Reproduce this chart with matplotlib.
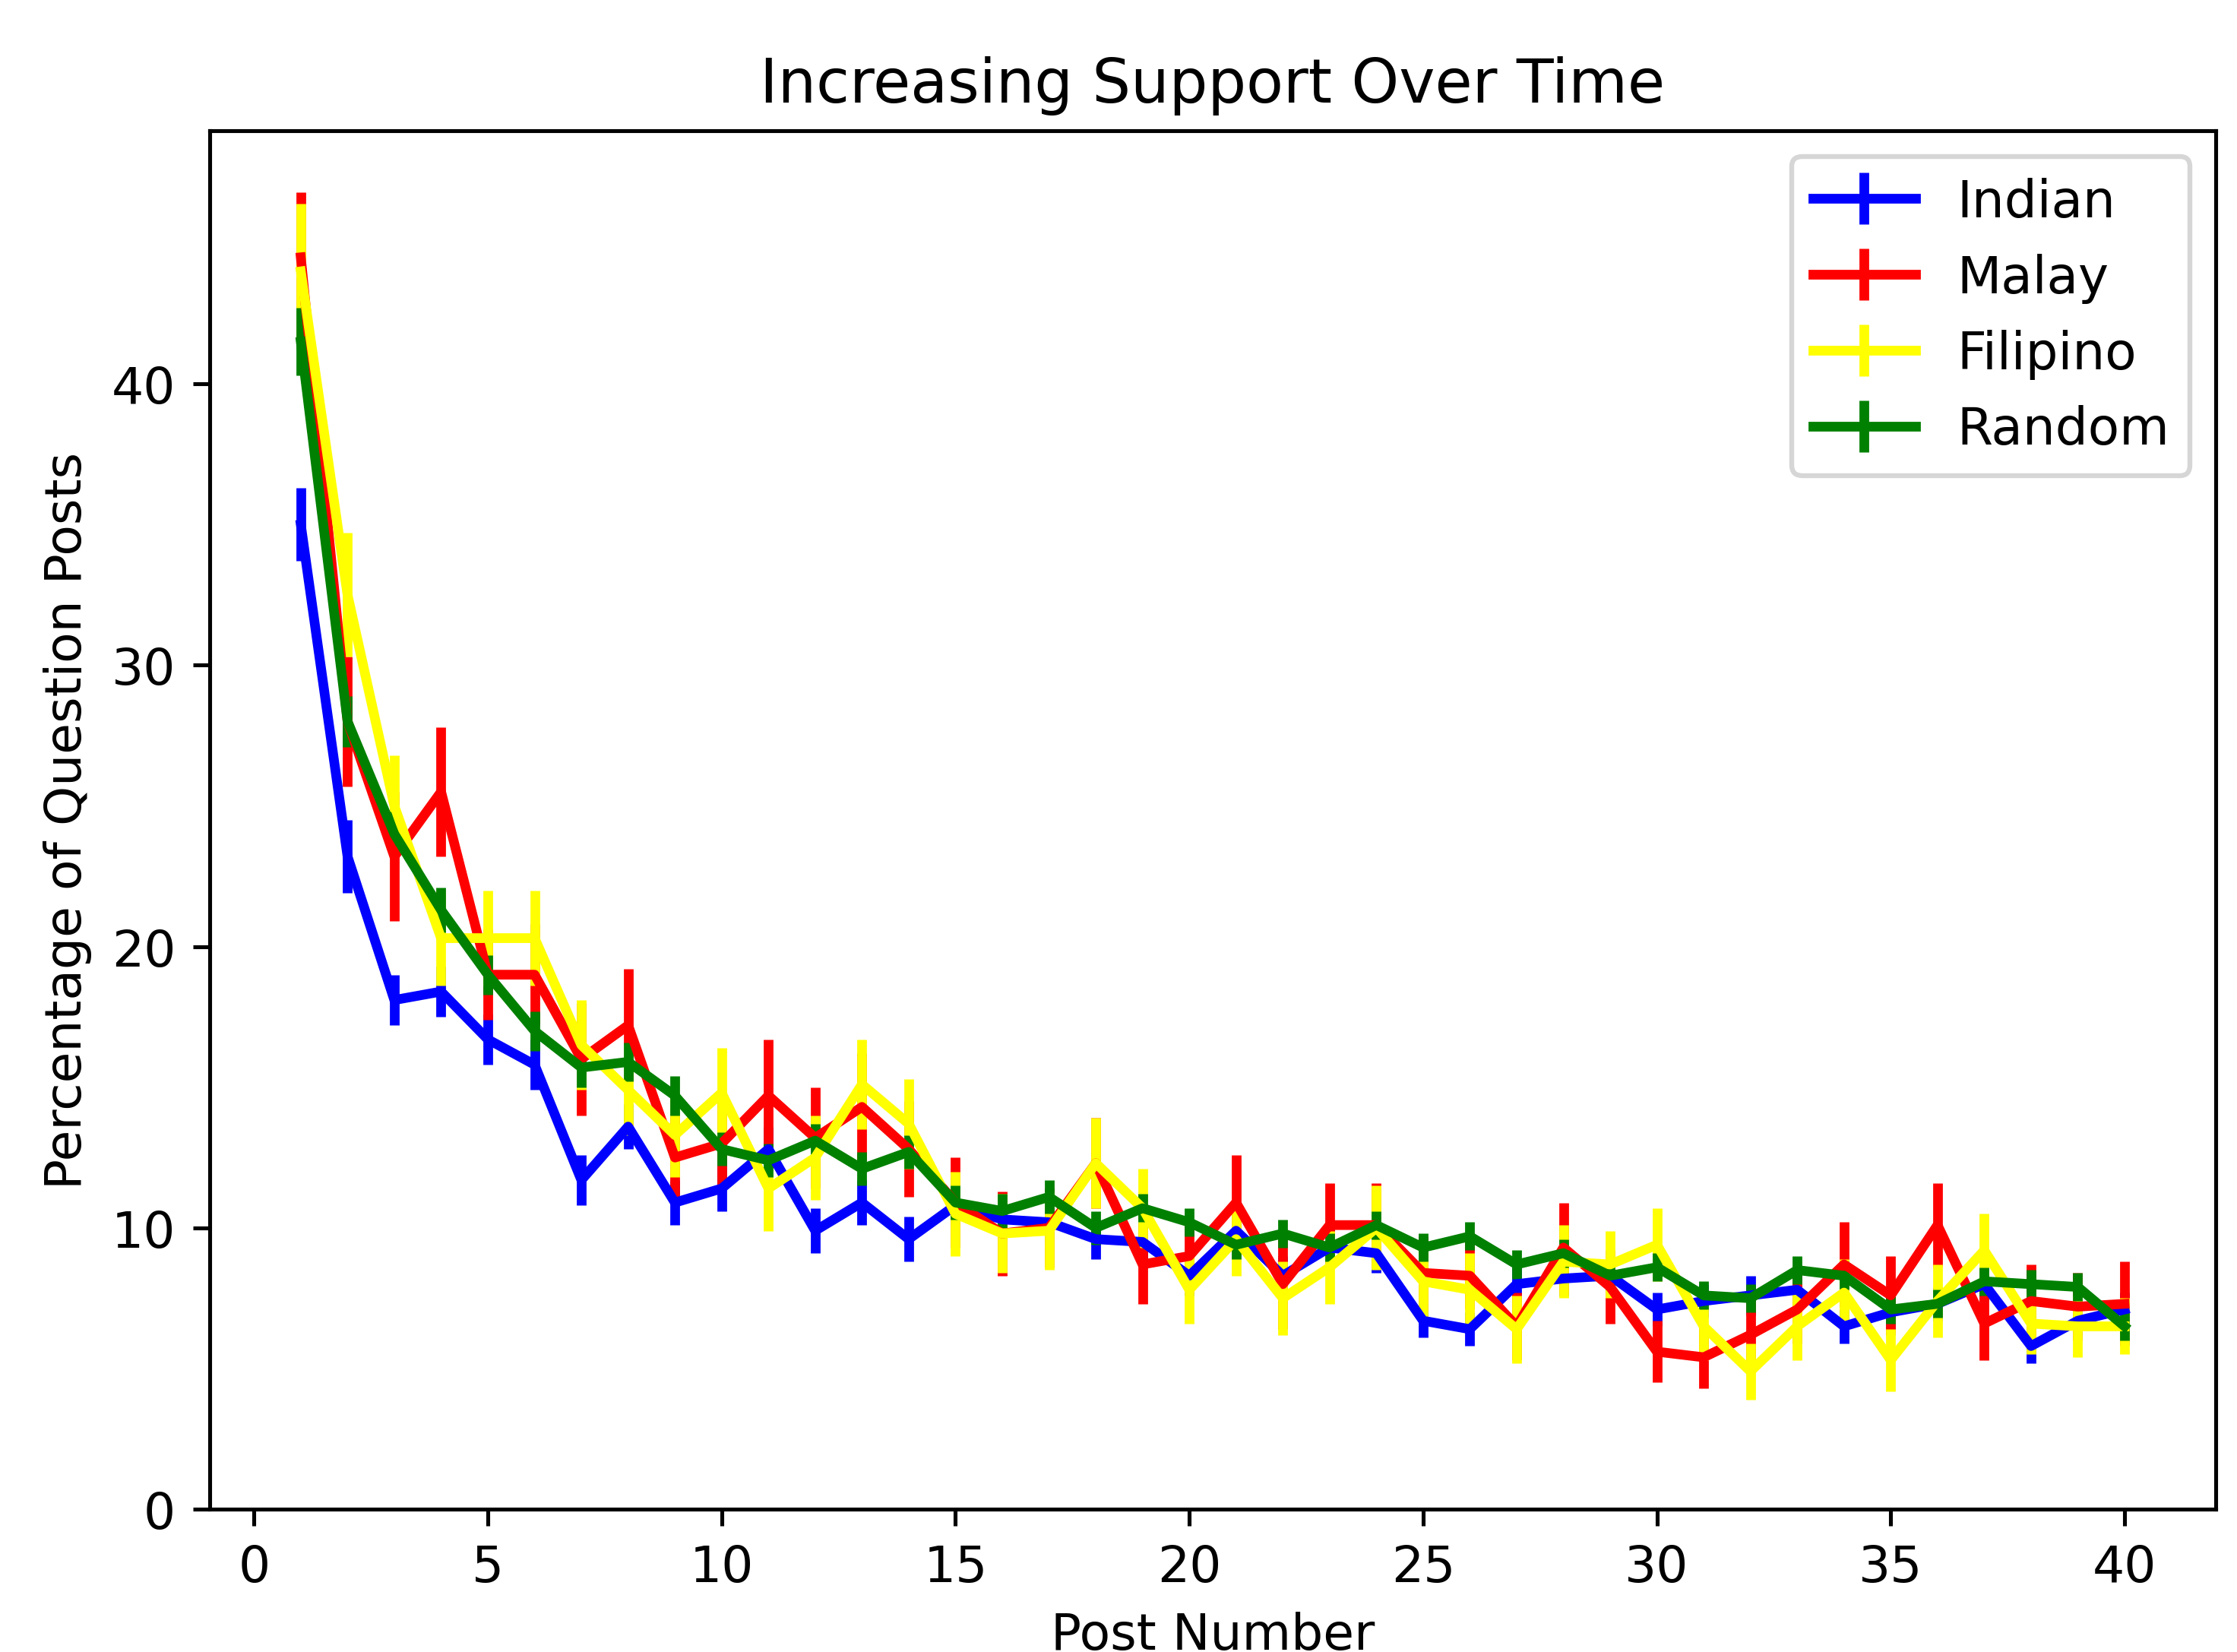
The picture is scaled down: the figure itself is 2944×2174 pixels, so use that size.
import matplotlib
matplotlib.use('Agg')
import matplotlib.pyplot as plt

plt.rcParams['font.size'] = 10.4

post = list(range(1, 41))

indian = [35.0, 23.2, 18.1, 18.4, 16.7, 15.8, 11.7, 13.6, 10.9, 11.4,
          12.8, 9.9, 10.9, 9.6, 10.8, 10.3, 10.2, 9.6, 9.5, 8.3,
          9.9, 8.3, 9.3, 9.1, 6.7, 6.4, 8.0, 8.2, 8.3, 7.1,
          7.4, 7.6, 7.8, 6.5, 7.0, 7.3, 8.0, 5.8, 6.7, 7.1]
indian_err = [1.3, 1.3, 0.9, 0.9, 0.9, 0.9, 0.9, 0.8, 0.8, 0.8,
              0.8, 0.8, 0.8, 0.8, 0.7, 0.7, 0.7, 0.7, 0.7, 0.7,
              0.7, 0.7, 0.7, 0.7, 0.6, 0.6, 0.6, 0.6, 0.6, 0.6,
              0.6, 0.7, 0.7, 0.6, 0.6, 0.6, 0.6, 0.6, 0.6, 0.6]

malay = [44.5, 28.0, 23.2, 25.5, 19.0, 19.0, 16.0, 17.2, 12.5, 13.0,
         14.7, 13.2, 14.3, 12.8, 10.9, 9.8, 10.0, 12.3, 8.7, 9.0,
         10.9, 8.0, 10.1, 10.1, 8.4, 8.3, 6.5, 9.3, 7.9, 5.6,
         5.4, 6.2, 7.1, 8.7, 7.6, 10.1, 6.6, 7.4, 7.2, 7.3]
malay_err = [2.3, 2.3, 2.3, 2.3, 1.6, 1.8, 2.0, 2.0, 1.5, 1.5,
             2.0, 1.8, 1.9, 1.7, 1.6, 1.5, 1.4, 1.6, 1.4, 1.3,
             1.7, 1.6, 1.5, 1.5, 1.3, 1.2, 1.2, 1.6, 1.3, 1.1,
             1.1, 1.2, 1.2, 1.5, 1.4, 1.5, 1.3, 1.3, 1.2, 1.5]

filipino = [44.0, 32.5, 25.0, 20.3, 20.3, 20.3, 16.5, 14.9, 13.3, 14.8,
            11.4, 12.5, 15.1, 13.7, 10.5, 9.8, 9.9, 12.3, 10.7, 7.8,
            9.6, 7.5, 8.6, 10.0, 8.1, 7.8, 6.4, 8.8, 8.7, 9.4,
            6.5, 4.9, 6.5, 7.7, 5.3, 7.4, 9.2, 6.6, 6.5, 6.5]
filipino_err = [2.4, 2.2, 1.8, 1.7, 1.7, 1.7, 1.6, 1.6, 1.5, 1.6,
                1.5, 1.5, 1.6, 1.6, 1.5, 1.4, 1.4, 1.6, 1.4, 1.2,
                1.3, 1.3, 1.3, 1.5, 1.3, 1.3, 1.2, 1.3, 1.2, 1.3,
                1.2, 1.0, 1.2, 1.2, 1.1, 1.3, 1.3, 1.1, 1.1, 1.0]

rand = [41.5, 28.0, 24.0, 21.3, 19.0, 17.0, 15.7, 15.9, 14.7, 12.8,
        12.4, 13.1, 12.1, 12.7, 10.9, 10.6, 11.1, 10.0, 10.7, 10.2,
        9.4, 9.8, 9.3, 10.1, 9.3, 9.7, 8.7, 9.1, 8.3, 8.6,
        7.6, 7.5, 8.5, 8.3, 7.1, 7.3, 8.1, 8.0, 7.9, 6.5]
rand_err = [1.2, 0.9, 0.8, 0.8, 0.7, 0.7, 0.7, 0.7, 0.7, 0.6,
            0.6, 0.6, 0.6, 0.6, 0.6, 0.6, 0.6, 0.6, 0.5, 0.5,
            0.5, 0.5, 0.5, 0.5, 0.5, 0.5, 0.5, 0.5, 0.5, 0.5,
            0.5, 0.5, 0.5, 0.5, 0.5, 0.5, 0.5, 0.5, 0.5, 0.5]

fig = plt.figure(figsize=(6.4, 4.728), dpi=460)
ax = fig.add_axes([0.0937, 0.0864, 0.8968, 0.8341])

ax.errorbar(post, indian, yerr=indian_err, color='blue', lw=2, label='Indian')
ax.errorbar(post, malay, yerr=malay_err, color='red', lw=2, label='Malay')
ax.errorbar(post, filipino, yerr=filipino_err, color='yellow', lw=2, label='Filipino')
ax.errorbar(post, rand, yerr=rand_err, color='green', lw=2, label='Random')

ax.set_ylim(0, 49)
ax.set_title('Increasing Support Over Time', fontsize=12.5)
ax.set_xlabel('Post Number')
ax.set_ylabel('Percentage of Question Posts')
ax.legend(loc='upper right', fontsize=10.6)

fig.savefig('out.png', dpi=460)
